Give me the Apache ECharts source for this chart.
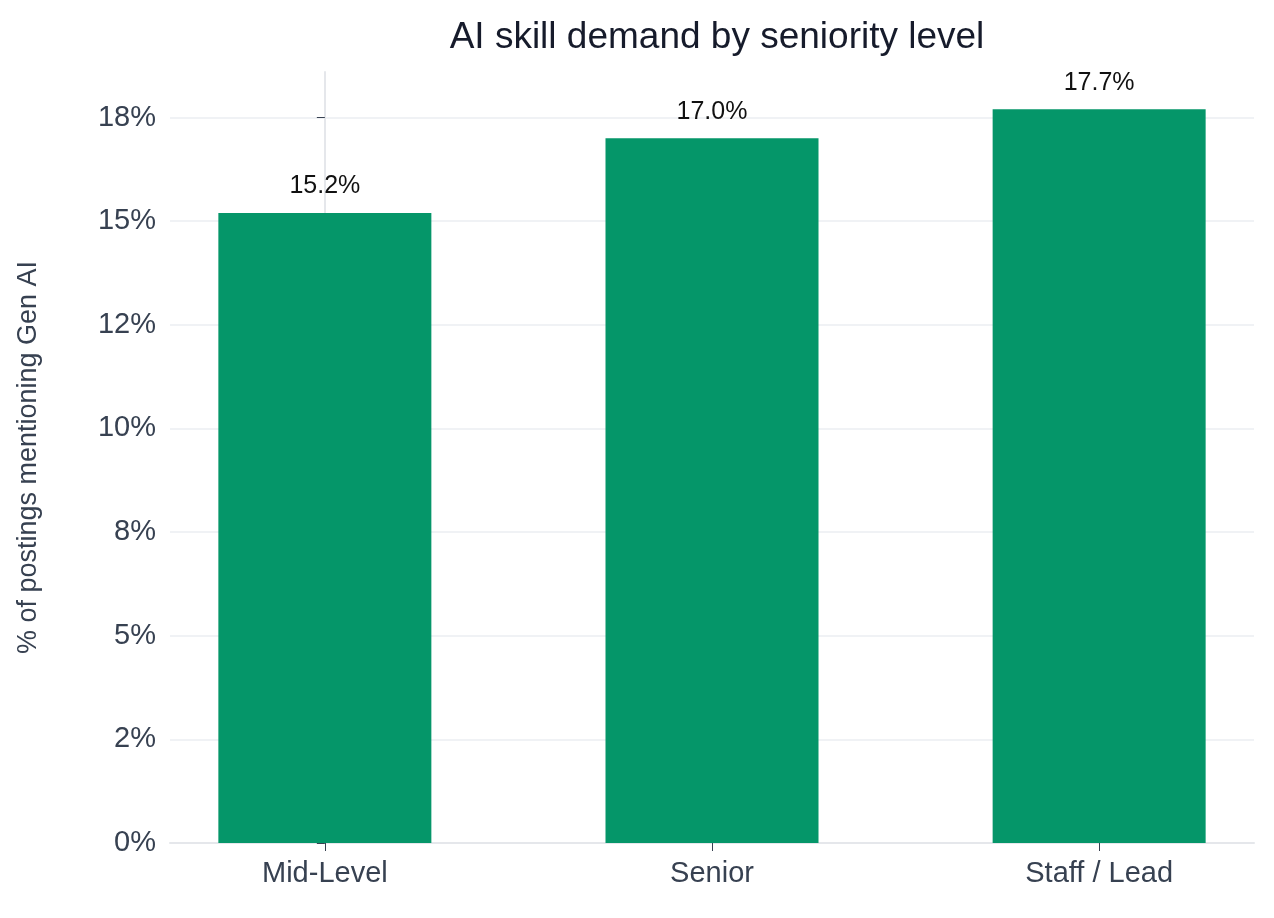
<!DOCTYPE html>
<html><head><meta charset="utf-8">
<script src="https://cdn.jsdelivr.net/npm/echarts@6/dist/echarts.min.js"></script>
<style>html,body{margin:0;padding:0;background:#fff}#c{width:1274px;height:918px}</style>
</head><body><div id="c"></div>
<script>
const categories = ["Mid-Level", "Senior", "Staff / Lead"];
const values = [15.2, 17.0, 17.7];
const yTickValues = [0, 2.5, 5, 7.5, 10, 12.5, 15, 17.5];
const yTickLabels = ["0%", "2%", "5%", "8%", "10%", "12%", "15%", "18%"];
const F = "Liberation Sans, Helvetica, Arial, sans-serif";
const chart = echarts.init(document.getElementById('c'));
chart.setOption({
  animation: false,
  title: {text: "AI skill demand by seniority level", left: 712, textAlign: 'center', top: 14,
    textStyle: {fontFamily: F, fontSize: 37, fontWeight: 'normal', color: '#161b2b'}},
  grid: {left: 170, right: 20, top: 72, bottom: 75},
  xAxis: {type: 'value', min: -0.4, max: 2.4,
    axisLine: {show: true, lineStyle: {color: '#e5e7eb', width: 2}},
    splitLine: {show: false},
    axisTick: {show: true, customValues: [0,1,2], length: 8, lineStyle: {color: '#374151'}},
    axisLabel: {customValues: [0,1,2], formatter: v => categories[Math.round(v)], fontFamily: F, fontSize: 29, color: '#374151', margin: 16}},
  yAxis: {type: 'value', min: 0, max: 18.6,
    name: "% of postings mentioning Gen AI", nameLocation: 'middle', nameGap: 128,
    nameTextStyle: {fontFamily: F, fontSize: 27, color: '#374151'},
    axisLine: {show: true, lineStyle: {color: '#e5e7eb', width: 2}},
    axisTick: {show: true, customValues: yTickValues, length: 8, lineStyle: {color: '#374151'}},
    axisLabel: {customValues: yTickValues, formatter: v => yTickLabels[yTickValues.indexOf(v)], fontFamily: F, fontSize: 29, color: '#374151', margin: 14},
    splitLine: {show: true, lineStyle: {color: '#f0f2f5', width: 2}}},
  series: [{type: 'bar', barWidth: 213,
    data: values.map((v, i) => [i, v]),
    itemStyle: {color: '#059669'},
    label: {show: true, position: 'top', distance: 14, formatter: p => p.value[1].toFixed(1) + '%',
      fontFamily: F, fontSize: 25, color: '#111'}}]
});
</script></body></html>
